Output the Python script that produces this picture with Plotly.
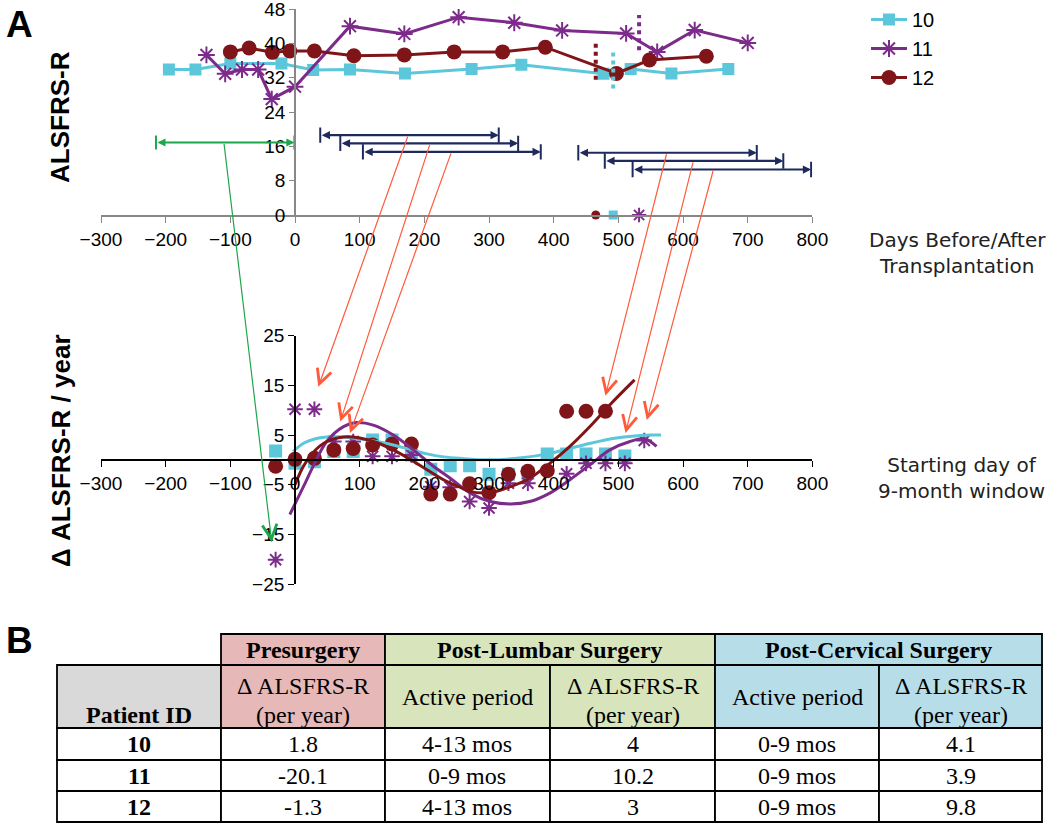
import plotly.graph_objects as go

W, H = 1050, 823

# ---------------- DATA ----------------
# Top panel: ALSFRS-R score vs days before/after transplantation
p10_days = [-195, -154, -100, -21, 28, 85, 170, 273, 350, 477, 519, 582, 670]
p10_score = [33.9, 33.9, 35.3, 35.3, 33.8, 33.9, 33.0, 34.0, 35.0, 32.9, 34.0, 33.0, 34.0]
p11_days = [-137, -108, -82, -57, -36, 0, 85, 169, 253, 339, 413, 512, 560, 618, 700]
p11_score = [37.3, 32.9, 33.9, 33.9, 27.0, 29.9, 44.0, 42.2, 46.1, 44.8, 43.0, 42.3, 38.0, 43.1, 40.1]
p12_days = [-100, -71, -35, -8, 30, 91, 169, 246, 321, 387, 497, 548, 636]
p12_score = [38.0, 38.9, 37.9, 38.2, 38.2, 37.1, 37.3, 38.0, 38.0, 39.1, 33.0, 36.1, 37.0]

# cervical surgery day per patient (10, 11, 12) and dotted marker extents
surgery_day = [492, 532, 465]
surgery_lo = [29.5, 38.4, 31.5]
surgery_hi = [38.0, 46.6, 40.0]

# 9-month windows (navy) and presurgery window (green)
win_start = [39, 70, 105, 438, 479, 522]
win_end = [315, 345, 380, 714, 755, 798]
win_level = [18.6, 16.7, 14.7, 14.5, 12.6, 10.6]
pre_start, pre_end, pre_level = -215, -1, 16.9

# connector arrows: tail (top panel) -> head (bottom panel)
conn_tail_day = [175, 209, 242, 575, 616, 647]
conn_head_day = [36, 70, 85, 480, 511, 544]
conn_head_val = [14.7, 7.7, 5.4, 12.9, 5.4, 8.0]
green_tail_day, green_head_day, green_head_val = -110, -36, -16.6

# Bottom panel: delta ALSFRS-R / year by starting day of 9-month window
r10_days = [-30, 0, 30, 60, 90, 120, 150, 180, 210, 240, 270, 300, 330, 360, 390, 420, 450, 480, 510]
r10_vals = [1.8, -0.7, -0.4, 1.7, 1.7, 4.0, 4.0, 1.0, -1.9, -1.2, -1.2, -2.9, -2.9, -2.7, 1.2, 1.2, 1.2, 1.2, 0.8]
r11_days = [-30, 0, 30, 60, 90, 120, 150, 180, 210, 240, 270, 300, 330, 360, 420, 450, 480, 510, 540]
r11_vals = [-20.1, 10.2, 10.2, 3.7, 3.7, 0.7, 0.7, 1.0, -5.4, -5.5, -8.4, -9.7, -4.7, -4.7, -2.8, -0.7, -0.7, -0.7, 3.9]
r12_days = [-30, 0, 30, 60, 90, 120, 150, 180, 210, 240, 270, 300, 330, 360, 390, 420, 450, 480]
r12_vals = [-1.3, 0.1, 0.3, 2.0, 2.3, 3.0, 3.2, 3.2, -6.9, -6.9, -4.8, -6.6, -2.9, -2.3, -2.2, 9.8, 9.8, 9.8]

# trend curves
f10_days = [-3, 14, 30, 49, 75, 100, 126, 152, 178, 204, 230, 255, 300, 350, 394, 446, 497, 549, 566]
f10_vals = [1.7, 3.4, 4.2, 4.6, 4.6, 4.2, 3.7, 3.0, 2.1, 1.2, 0.6, 0.3, 0.0, 0.4, 1.3, 3.0, 4.4, 5.0, 5.0]
f11_days = [-8, 13, 28, 49, 75, 95, 121, 152, 183, 214, 240, 271, 302, 333, 363, 394, 425, 456, 487, 518, 541, 559]
f11_vals = [-11.0, -5.4, -1.3, 3.7, 6.7, 7.5, 7.0, 5.0, 2.0, -1.3, -3.7, -6.7, -8.4, -8.9, -8.4, -6.7, -4.0, -1.0, 2.0, 3.7, 4.2, 2.7]
f12_days = [0, 13, 28, 49, 75, 100, 126, 152, 178, 204, 235, 255, 271, 302, 333, 363, 394, 425, 456, 487, 525]
f12_vals = [-5.0, -1.3, 1.5, 3.7, 4.6, 4.4, 3.5, 2.0, 0.1, -2.0, -4.4, -5.5, -6.4, -6.6, -5.4, -3.7, -0.7, 2.7, 6.7, 11.1, 16.1]

x_ticks = list(range(-300, 801, 100))
top_y_ticks = [0, 8, 16, 24, 32, 40, 48]
bot_y_ticks = [-25, -15, -5, 5, 15, 25]
patient_ids = ["10", "11", "12"]

# Table B
tbl_patients = ["10", "11", "12"]
tbl_pre_rate = ["1.8", "-20.1", "-1.3"]
tbl_lumbar_period = ["4-13 mos", "0-9 mos", "4-13 mos"]
tbl_lumbar_rate = ["4", "10.2", "3"]
tbl_cerv_period = ["0-9 mos", "0-9 mos", "0-9 mos"]
tbl_cerv_rate = ["4.1", "3.9", "9.8"]

# ---------------- STYLE ----------------
C10, C11, C12 = "#5cc6da", "#7d2b8b", "#7f1518"
NAVY, ORANGE, GREEN = "#1f2a5c", "#ff5a3a", "#1ea64b"
FONT = "Arial, Liberation Sans, sans-serif"
SERIF = "Times New Roman, Liberation Serif, serif"
SANS2 = "Verdana, DejaVu Sans, sans-serif"


def px(x):
    return x / W


def py(y):
    return 1 - y / H


XDOM = [px(101), px(812.4)]
TOP_DOM = [py(215), py(9)]
BOT_DOM = [py(584), py(335.7)]
TOP_RANGE = [0, 48]
BOT_RANGE = [-25, 25]


def top_to_y2(v):
    pp = TOP_DOM[0] + (v - TOP_RANGE[0]) / (TOP_RANGE[1] - TOP_RANGE[0]) * (TOP_DOM[1] - TOP_DOM[0])
    return BOT_RANGE[0] + (pp - BOT_DOM[0]) / (BOT_DOM[1] - BOT_DOM[0]) * (BOT_RANGE[1] - BOT_RANGE[0])


fig = go.Figure()

# --- top panel series
markers = [("square", 12, None), ("asterisk-open", 14, 2), ("circle", 15, None)]
for name, d, s, c, (sym, sz, lw) in zip(patient_ids, [p10_days, p11_days, p12_days],
                                        [p10_score, p11_score, p12_score], [C10, C11, C12], markers):
    mk = dict(symbol=sym, size=sz, color=c)
    if lw:
        mk["line"] = dict(color=c, width=lw)
    fig.add_trace(go.Scatter(x=d, y=s, mode="lines+markers", name=name,
                             line=dict(color=c, width=3), marker=mk, xaxis="x", yaxis="y"))

# surgery dotted lines and markers on axis
for d, lo, hi, c in zip(surgery_day, surgery_lo, surgery_hi, [C10, C11, C12]):
    fig.add_trace(go.Scatter(x=[d, d], y=[lo, hi], mode="lines", showlegend=False,
                             line=dict(color=c, width=4, dash="dot"), xaxis="x", yaxis="y"))
for d, c, (sym, sz, lw) in zip(surgery_day, [C10, C11, C12],
                               [("square", 9, None), ("asterisk-open", 12, 2), ("circle", 9, None)]):
    mk = dict(symbol=sym, size=sz, color=c)
    if lw:
        mk["line"] = dict(color=c, width=lw)
    fig.add_trace(go.Scatter(x=[d], y=[0], mode="markers", showlegend=False, marker=mk,
                             cliponaxis=False, xaxis="x", yaxis="y"))

# window bars (caps)
cap_x, cap_y = [], []
for s, e, l in zip(win_start, win_end, win_level):
    cap_x += [s, e]
    cap_y += [l, l]
fig.add_trace(go.Scatter(x=cap_x, y=cap_y, mode="markers", showlegend=False,
                         marker=dict(symbol="line-ns-open", size=11, color=NAVY,
                                     line=dict(color=NAVY, width=2)),
                         xaxis="x", yaxis="y"))
fig.add_trace(go.Scatter(x=[pre_start, pre_end], y=[pre_level, pre_level], mode="markers", showlegend=False,
                         marker=dict(symbol="line-ns-open", size=10, color=GREEN,
                                     line=dict(color=GREEN, width=2)),
                         xaxis="x", yaxis="y"))

# --- bottom panel
for d, v, c, (sym, sz, lw) in zip([r10_days, r11_days, r12_days], [r10_vals, r11_vals, r12_vals],
                                  [C10, C11, C12],
                                  [("square", 13, None), ("asterisk-open", 13, 2), ("circle", 15, None)]):
    mk = dict(symbol=sym, size=sz, color=c)
    if lw:
        mk["line"] = dict(color=c, width=lw)
    fig.add_trace(go.Scatter(x=d, y=v, mode="markers", showlegend=False, marker=mk,
                             xaxis="x2", yaxis="y2"))
for d, v, c in zip([f10_days, f11_days, f12_days], [f10_vals, f11_vals, f12_vals], [C10, C11, C12]):
    fig.add_trace(go.Scatter(x=d, y=v, mode="lines", showlegend=False, line=dict(color=c, width=3, shape="spline"),
                             xaxis="x2", yaxis="y2"))

annotations = []
# bar arrows
for s, e, l in zip(win_start, win_end, win_level):
    annotations.append(dict(x=e, y=l, ax=s, ay=l, xref="x", yref="y", axref="x", ayref="y", text="",
                            showarrow=True, arrowside="end+start", arrowhead=2, startarrowhead=2,
                            arrowsize=0.75, startarrowsize=0.75, arrowwidth=2.2, arrowcolor=NAVY))
annotations.append(dict(x=pre_end, y=pre_level, ax=pre_start, ay=pre_level, xref="x", yref="y", axref="x",
                        ayref="y", text="", showarrow=True, arrowside="end+start", arrowhead=2,
                        startarrowhead=2, arrowsize=0.8, startarrowsize=0.8, arrowwidth=2, arrowcolor=GREEN))
# connector arrows
for td, tl, hd, hv in zip(conn_tail_day, win_level, conn_head_day, conn_head_val):
    annotations.append(dict(x=hd, y=hv, ax=td, ay=top_to_y2(tl), xref="x2", yref="y2", axref="x2", ayref="y2",
                            text="", showarrow=True, arrowhead=5, arrowsize=2.4, arrowwidth=1.2,
                            arrowcolor=ORANGE))
annotations.append(dict(x=green_head_day, y=green_head_val, ax=green_tail_day, ay=top_to_y2(pre_level),
                        xref="x2", yref="y2", axref="x2", ayref="y2", text="", showarrow=True, arrowhead=5,
                        arrowsize=2.4, arrowwidth=1.2, arrowcolor=GREEN))


def label(x, y, t, font, angle=0):
    annotations.append(dict(x=px(x), y=py(y), xref="paper", yref="paper", text=t, showarrow=False,
                            xanchor="center", yanchor="middle", textangle=angle, font=font))


label(19, 24, "<b>A</b>", dict(family=FONT, size=37, color="black"))
label(19, 640, "<b>B</b>", dict(family=FONT, size=37, color="black"))
label(60, 117, "<b>ALSFRS-R</b>", dict(family=FONT, size=26, color="black"), -90)
label(61, 451, "<b>Δ ALSFRS-R / year</b>", dict(family=FONT, size=26, color="black"), -90)
label(957, 253, "Days Before/After<br>Transplantation", dict(family=SANS2, size=20, color="#222"))
label(961, 478, "Starting day of<br>9-month window", dict(family=SANS2, size=20, color="#222"))

# ---------------- TABLE ----------------
shapes = []
cols = [57, 221, 385, 550, 715, 879, 1042]
r_h1 = [634, 665]
r_h2 = [665, 728]
r_data = [728, 760, 791, 822]


def rect(x0, y0, x1, y1, fill):
    shapes.append(dict(type="rect", xref="paper", yref="paper", x0=px(x0), x1=px(x1), y0=py(y1), y1=py(y0),
                       fillcolor=fill, line=dict(color="black", width=1.8), layer="below"))


def txt(x, y, t, bold=False, size=24):
    label(x, y, ("<b>%s</b>" % t) if bold else t, dict(family=SERIF, size=size, color="black"))


PINK, LGREEN, LBLUE, GRAY = "#e6b9b8", "#d8e4bc", "#b7dee8", "#d9d9d9"
rect(cols[1], r_h1[0], cols[2], r_h1[1], PINK)
rect(cols[2], r_h1[0], cols[4], r_h1[1], LGREEN)
rect(cols[4], r_h1[0], cols[6], r_h1[1], LBLUE)
rect(cols[0], r_h2[0], cols[1], r_h2[1], GRAY)
rect(cols[1], r_h2[0], cols[2], r_h2[1], PINK)
rect(cols[2], r_h2[0], cols[3], r_h2[1], LGREEN)
rect(cols[3], r_h2[0], cols[4], r_h2[1], LGREEN)
rect(cols[4], r_h2[0], cols[5], r_h2[1], LBLUE)
rect(cols[5], r_h2[0], cols[6], r_h2[1], LBLUE)
for i in range(3):
    for j in range(6):
        rect(cols[j], r_data[i], cols[j + 1], r_data[i + 1], "white")

mid = lambda a, b: (a + b) / 2
txt(mid(cols[1], cols[2]), 650, "Presurgery", bold=True)
txt(mid(cols[2], cols[4]), 650, "Post-Lumbar Surgery", bold=True)
txt(mid(cols[4], cols[6]), 650, "Post-Cervical Surgery", bold=True)
txt(mid(cols[0], cols[1]), 715, "Patient ID", bold=True)
for c0, c1 in [(cols[1], cols[2]), (cols[3], cols[4]), (cols[5], cols[6])]:
    txt(mid(c0, c1), 686, "Δ ALSFRS-R")
    txt(mid(c0, c1), 715, "(per year)")
txt(mid(cols[2], cols[3]), 697, "Active period")
txt(mid(cols[4], cols[5]), 697, "Active period")
for i in range(3):
    yc = mid(r_data[i], r_data[i + 1])
    row = [tbl_patients[i], tbl_pre_rate[i], tbl_lumbar_period[i], tbl_lumbar_rate[i],
           tbl_cerv_period[i], tbl_cerv_rate[i]]
    for j, t in enumerate(row):
        txt(mid(cols[j], cols[j + 1]), yc, t, bold=(j == 0))

axis_font = dict(family=FONT, size=19, color="black")
common = dict(showgrid=False, zeroline=False, automargin=False, fixedrange=True, showline=True,
              ticks="outside", tickfont=axis_font, ticklabeloverflow="allow")
fig.update_layout(
    width=W, height=H, margin=dict(l=0, r=0, t=0, b=0, pad=0, autoexpand=False),
    paper_bgcolor="white", plot_bgcolor="rgba(0,0,0,0)",
    showlegend=True,
    legend=dict(x=px(866), y=py(0), xanchor="left", yanchor="top", font=dict(family=FONT, size=20, color="black"),
                bgcolor="rgba(0,0,0,0)", tracegroupgap=0, itemwidth=36),
    xaxis=dict(domain=XDOM, range=[-300, 800], anchor="y", tickvals=x_ticks, ticklen=6,
               tickcolor="#888", linecolor="#888", linewidth=1.5, **common),
    yaxis=dict(domain=TOP_DOM, range=TOP_RANGE, anchor="free", position=px(295), tickvals=top_y_ticks,
               ticklen=5, tickcolor="#888", linecolor="#888", linewidth=1.5, **common),
    xaxis2=dict(domain=XDOM, range=[-300, 800], anchor="free", position=py(460), tickvals=x_ticks,
                ticklen=6, tickcolor="black", linecolor="black", linewidth=1.8, **common),
    yaxis2=dict(domain=BOT_DOM, range=BOT_RANGE, anchor="free", position=px(295), tickvals=bot_y_ticks,
                ticklen=6, tickcolor="black", linecolor="black", linewidth=1.8, **common),
    annotations=annotations,
    shapes=shapes,
)

fig.write_html("out.html", config={"displayModeBar": False},
               post_script="document.body.style.margin='0';")
